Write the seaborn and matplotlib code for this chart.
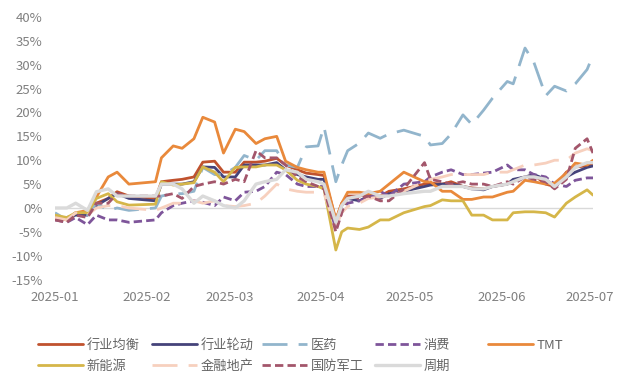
import matplotlib
matplotlib.use("Agg")
import matplotlib.pyplot as plt
import matplotlib.dates as mdates
import seaborn as sns
import pandas as pd

dates = ["2025-01-02", "2025-01-06", "2025-01-09", "2025-01-13", "2025-01-16", "2025-01-20", "2025-01-23", "2025-01-27",
         "2025-02-05", "2025-02-07", "2025-02-11", "2025-02-14", "2025-02-18", "2025-02-21", "2025-02-25", "2025-02-28",
         "2025-03-04", "2025-03-07", "2025-03-11", "2025-03-14", "2025-03-18", "2025-03-21", "2025-03-25", "2025-03-28",
         "2025-04-01", "2025-04-03", "2025-04-07", "2025-04-09", "2025-04-11", "2025-04-15", "2025-04-18", "2025-04-22",
         "2025-04-25", "2025-04-30", "2025-05-07", "2025-05-09", "2025-05-13", "2025-05-16", "2025-05-20", "2025-05-23",
         "2025-05-27", "2025-05-30", "2025-06-04", "2025-06-06", "2025-06-10", "2025-06-13", "2025-06-17", "2025-06-20",
         "2025-06-24", "2025-06-27", "2025-07-01", "2025-07-03"]

hangye_junheng = [-1.5, -2.5, -1, -1, 1, 2, 3.4, 2.5,
                  2, 5.5, 5.8, 6, 6.5, 9.6, 9.8, 7.5,
                  7.5, 9.6, 9.6, 9.8, 10.4, 9, 8, 7.3,
                  7, 6.8, -2.5, 1, 2.5, 2.5, 3, 2.5, 3.5, 4,
                  5, 5.2, 5, 5.5, 4.5, 4.2, 4, 4.5,
                  5, 5.8, 6.5, 6.9, 5, 4.5, 7.5, 8.6,
                  8.8, 9.4]
hangye_lundong = [-2, -2, -1.5, -1.5, 0.5, 2, 3, 2,
                  1.5, 5, 5, 5, 5.5, 8.6, 8.5, 6.5,
                  6.5, 9, 9, 9, 9.5, 8, 7, 6.5,
                  6, 6, -3.5, 0.5, 2, 1.5, 2.5, 2, 3, 3.5,
                  4.5, 4.8, 5, 5, 4.5, 4, 3.8, 4.5,
                  5, 6, 6.5, 7, 6, 4.5, 6.5, 7.5,
                  8.5, 8.8]
yiyao = [-1, -2.5, -1, -1.5, 1, -0.5, 0, -0.5,
         0, 2.5, 3, 3, 3.5, 8.5, 7, 7,
         8.5, 11, 10, 12, 12, 9, 8.5, 12.8,
         13, 17, 5.5, 9, 12, 13.6, 15.7, 14.6, 15.5, 16.3,
         15, 13.2, 13.5, 15.5, 19.5, 17.5, 20.5, 23,
         26.5, 26, 33.5, 30.5, 23.5, 25.5, 24.5, 26,
         29, 32]
xiaofei = [-2.5, -3, -2, -3.5, -1.5, -2.5, -2.5, -3,
           -2.5, -1, 0.5, 1, 1.5, 1.2, 0.5, 2.3,
           1.5, 3.3, 3.5, 4.5, 7.5, 7, 5, 4.5,
           4.5, 4.5, -4.5, -1, 1, 1.5, 2, 3.5, 2.5, 5,
           5.5, 6.5, 7.5, 8, 7, 7, 7.3, 7.5,
           9, 8, 8, 7, 6.5, 5, 4.5, 5.8,
           6.3, 6.3]
tmt = [-2, -2.5, -1, -0.5, 2.3, 6.5, 7.5, 5,
       5.5, 10.5, 13, 12.5, 14.5, 19, 18, 11.5,
       16.5, 16, 13.5, 14.5, 15, 9.8, 8.5, 8,
       7.5, 7.5, -2.5, 1, 3.3, 3.3, 3, 3.5, 5, 7.5,
       5.5, 5.5, 3.5, 3.5, 1.8, 1.8, 2.3, 2.3,
       3.3, 3.5, 5.8, 5.5, 5, 5.2, 7.3, 9.4,
       9, 10]
xinnengyuan = [-1.5, -2, -1, -1, 2, 3, 1.3, 0.6,
               0.8, 5.5, 4.8, 5, 5.3, 8.6, 7.5, 5.5,
               8.5, 8.6, 8.6, 9, 9, 8, 5.8, 5,
               4.5, 4, -8.8, -5, -4.2, -4.5, -4, -2.5, -2.5, -1,
               0.3, 0.5, 1.7, 1.5, 1.5, -1.5, -1.5, -2.5,
               -2.5, -1, -0.8, -0.8, -1, -1.9, 1, 2.3,
               3.8, 2.7]
jinrong_dichan = [-2, -2.5, -1, -1.5, 0, 0.5, 0.5, 0,
                  -0.5, 0, 1, 1, 1.5, 1, 1.5, 0.5,
                  0.3, 0.5, 1, 2.5, 5, 4, 3.5, 3.3,
                  3.3, 3, -4, -1, 0.3, 1, 2, 2.3, 2.5, 3.5,
                  5.5, 6, 6.5, 7, 7, 7, 7, 7.5,
                  7.5, 8, 9, 9, 9.4, 10, 10, 11.5,
                  12.4, 12]
guofang_jungong = [-2.5, -3, -1.5, -2, 1, 1, 3, 2.5,
                   2.5, 2.5, 3, 2, 4.5, 5, 5.5, 5,
                   6, 5.5, 12, 10.5, 10.5, 9, 6.5, 5.5,
                   4.5, 4, -5, -1, 2.5, 2, 2.5, 1.5, 1.5, 4,
                   9.5, 6, 5.5, 5, 5.5, 5, 5, 4.5,
                   5.5, 5, 6.5, 6, 5.5, 4, 6, 12.5,
                   14.5, 11.5]
zhouqi = [0, 0, 1, -0.5, 3.4, 4, 2.5, 2.5,
          2.5, 5, 5, 4, 1, 2.5, 1.5, 0.5,
          0, 1.5, 5, 5.5, 6, 8, 7.5, 6,
          5.5, 5, -3, 0.5, 2, 2.5, 3.5, 2.5, 2.5, 3,
          3.5, 3.5, 4.5, 4.5, 4.5, 4, 4, 4.5,
          5, 5.5, 6.5, 6.5, 6, 4.5, 6.5, 8.5,
          9.5, 9.5]

names = ["行业均衡", "行业轮动", "医药", "消费", "TMT", "新能源", "金融地产", "国防军工", "周期"]
series = [hangye_junheng, hangye_lundong, yiyao, xiaofei, tmt, xinnengyuan, jinrong_dichan, guofang_jungong, zhouqi]
colors = ["#C0522E", "#45437A", "#92B5CC", "#7E559A", "#E9893B", "#D5B649", "#F7D0BE", "#A3566B", "#DADADA"]
styles = ["-", "-", (0, (9, 4)), (0, (3, 1.5)), "-", "-", (0, (9, 4)), (0, (3, 1.5)), "-"]
widths = [2.0, 2.0, 2.0, 2.0, 2.0, 2.0, 2.0, 2.0, 2.4]

sns.set_theme(style="white")
plt.rcParams["font.family"] = ["Noto Sans CJK SC", "DejaVu Sans"]
plt.rcParams["axes.unicode_minus"] = False

fig = plt.figure(figsize=(6.18, 3.78), dpi=100)
ax = fig.add_axes([55 / 618, 1 - 279.6 / 378, (593 - 55) / 618, (279.6 - 17) / 378])

x = pd.to_datetime(dates)
handles = []
for name, vals, c, ls, lw in zip(names, series, colors, styles, widths):
    sns.lineplot(x=x, y=vals, ax=ax, color=c, linewidth=lw, linestyle=ls, label=name, legend=False)
    handles.append(ax.get_lines()[-1])

ax.axhline(0, color="#D9D9D9", linewidth=1.0, zorder=0)

ax.set_ylim(-15, 40)
ax.set_yticks(range(-15, 41, 5))
ax.set_yticklabels([f"{v}%" for v in range(-15, 41, 5)])
ax.set_xlim(pd.Timestamp("2025-01-02"), pd.Timestamp("2025-07-03"))
ax.set_xticks(pd.to_datetime(["2025-01-02", "2025-02-02", "2025-03-02", "2025-04-02",
                              "2025-05-02", "2025-06-02", "2025-07-02"]))
ax.xaxis.set_major_formatter(mdates.DateFormatter("%Y-%m"))
ax.tick_params(axis="y", length=0, pad=9, labelsize=9.5, labelcolor="#808080")
ax.tick_params(axis="x", length=0, pad=8, labelsize=9.5, labelcolor="#808080")
ax.set_xlabel("")
ax.set_ylabel("")
ax.grid(False)
for s in ax.spines.values():
    s.set_visible(False)

col_x = [38, 152, 262, 375, 488]
for i, cx in enumerate(col_x):
    idx = [i, i + 5] if i + 5 < len(handles) else [i]
    fig.legend([handles[j] for j in idx], [names[j] for j in idx],
               loc="upper left", bbox_to_anchor=(cx / 618, 1 - 339 / 378),
               frameon=False, fontsize=9.5, handlelength=3.4, handletextpad=0.3,
               borderpad=0, borderaxespad=0, labelspacing=0.6, labelcolor="#666666")

fig.savefig("out.png", dpi=100)
